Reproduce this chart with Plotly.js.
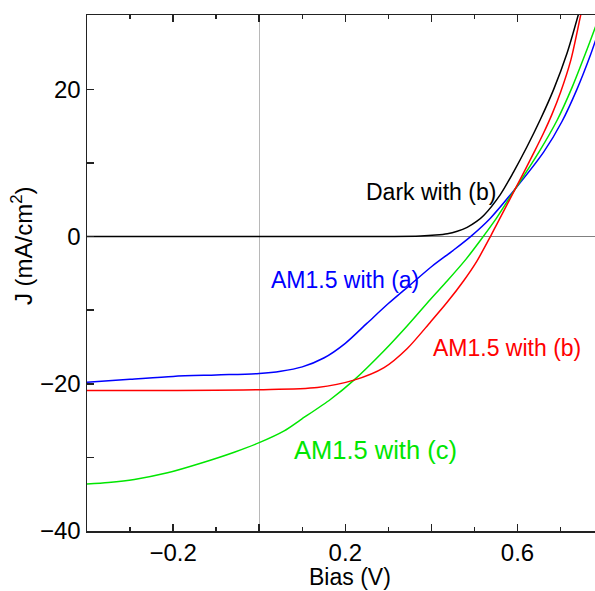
<!DOCTYPE html>
<html>
<head>
<meta charset="utf-8">
<script src="https://cdn.plot.ly/plotly-3.0.1.min.js"></script>
<style>html,body{margin:0;padding:0;background:#fff;overflow:hidden}</style>
</head>
<body>
<div id="chart" style="width:595px;height:591px"></div>
<script>
// Dark with (b)
const darkX = [-0.4, 0.1, 0.3, 0.375, 0.41, 0.437, 0.46, 0.483, 0.505, 0.522, 0.56, 0.591, 0.622, 0.653, 0.684, 0.715, 0.742];
const darkY = [0, 0, 0.02, 0.08, 0.2, 0.38, 0.72, 1.25, 2.05, 2.9, 5.7, 8.8, 12.2, 15.9, 20.0, 24.9, 30.3];
// AM1.5 with (a)
const amAX = [-0.4, -0.3, -0.2, -0.1, 0.0, 0.05, 0.1, 0.15, 0.2, 0.25, 0.3, 0.35, 0.4, 0.45, 0.491, 0.537, 0.595, 0.661, 0.703, 0.738, 0.769, 0.785];
const amAY = [-19.8, -19.4, -19.0, -18.8, -18.6, -18.3, -17.7, -16.5, -14.5, -11.8, -9.1, -6.6, -4.1, -1.9, 0, 2.5, 6.5, 11.5, 15.6, 20.0, 24.6, 27.3];
// AM1.5 with (b)
const amBX = [-0.4, -0.2, 0.0, 0.135, 0.22, 0.29, 0.344, 0.398, 0.437, 0.475, 0.505, 0.537, 0.553, 0.595, 0.618, 0.638, 0.66, 0.68, 0.70, 0.724, 0.745, 0.75];
const amBY = [-20.9, -20.9, -20.8, -20.5, -19.5, -17.8, -15.2, -11.6, -8.9, -6.0, -3.4, 0, 1.8, 6.5, 9.1, 11.4, 14.0, 16.6, 19.6, 24.0, 29.6, 31.0];
// AM1.5 with (c)
const amCX = [-0.4, -0.35, -0.29, -0.213, -0.136, -0.058, 0.0, 0.058, 0.096, 0.166, 0.22, 0.29, 0.344, 0.398, 0.437, 0.48, 0.514, 0.55, 0.595, 0.649, 0.692, 0.727, 0.758, 0.783];
const amCY = [-33.6, -33.4, -33.0, -32.1, -30.8, -29.3, -28.0, -26.4, -24.9, -22.1, -19.5, -15.5, -12.1, -8.5, -6.0, -3.1, -0.5, 2.4, 6.5, 11.4, 15.8, 20.3, 24.9, 28.8];

const yTickVals = [-40, -20, 0, 20];
const yTickText = ['\u221240', '\u221220', '0', '20'];

const FONT = 'Liberation Sans, Arial, sans-serif';
const line = (c) => ({color: c, width: 1.5, shape: 'spline', smoothing: 0.8});

const traces = [
  {x: darkX, y: darkY, mode: 'lines', line: line('#000000'), name: 'Dark with (b)'},
  {x: amAX, y: amAY, mode: 'lines', line: line('#0000ff'), name: 'AM1.5 with (a)'},
  {x: amCX, y: amCY, mode: 'lines', line: line('#00e600'), name: 'AM1.5 with (c)'},
  {x: amBX, y: amBY, mode: 'lines', line: line('#ff0000'), name: 'AM1.5 with (b)'}
];

const layout = {
  width: 595, height: 591,
  margin: {l: 87, r: 0, t: 15, b: 60},
  paper_bgcolor: '#ffffff', plot_bgcolor: '#ffffff',
  showlegend: false,
  font: {family: FONT, size: 24, color: '#000'},
  xaxis: {
    range: [-0.4, 0.78], showgrid: false,
    zeroline: true, zerolinecolor: '#b8b8b8', zerolinewidth: 1.2,
    showline: true, linecolor: '#222', linewidth: 1.5, mirror: 'ticks',
    ticks: 'inside', ticklen: 7, tickwidth: 1.5, tickcolor: '#222',
    tickmode: 'linear', tick0: -0.2, dtick: 0.2, ticklabelstep: 2,
    tickfont: {size: 24},
    minor: {dtick: 0.1, tick0: 0, ticks: 'inside', ticklen: 4, tickwidth: 1.5, tickcolor: '#222'}
  },
  yaxis: {
    range: [-40, 30.1], showgrid: false,
    zeroline: true, zerolinecolor: '#808080', zerolinewidth: 1.2,
    showline: true, linecolor: '#222', linewidth: 1.5,
    ticks: 'inside', ticklen: 7, tickwidth: 1.5, tickcolor: '#222',
    tickmode: 'array', tickvals: yTickVals, ticktext: yTickText,
    tickfont: {size: 24},
    minor: {dtick: 10, tick0: 0, ticks: 'inside', ticklen: 7, tickwidth: 1.5, tickcolor: '#222'}
  },
  annotations: [
    {text: 'Bias (V)', xref: 'paper', yref: 'paper', x: 0.518, y: -0.0901, showarrow: false, xanchor: 'center', yanchor: 'middle', borderpad: 0, font: {size: 23, color: '#000'}},
    {text: 'J (mA/cm<sup>2</sup>)', xref: 'paper', yref: 'paper', x: -0.128, y: 0.554, textangle: -90, showarrow: false, xanchor: 'center', yanchor: 'middle', font: {size: 24, color: '#000'}},
    {text: 'Dark with (b)', x: 0.2425, y: 6.0, xanchor: 'left', yanchor: 'middle', showarrow: false, font: {size: 23, color: '#000000'}},
    {text: 'AM1.5 with (a)', x: 0.022, y: -5.85, xanchor: 'left', yanchor: 'middle', showarrow: false, font: {size: 23, color: '#0000ff'}},
    {text: 'AM1.5 with (b)', x: 0.398, y: -15.2, xanchor: 'left', yanchor: 'middle', showarrow: false, font: {size: 23, color: '#ff0000'}},
    {text: 'AM1.5 with (c)', x: 0.077, y: -29.0, xanchor: 'left', yanchor: 'middle', showarrow: false, font: {size: 25.5, color: '#00e600'}}
  ]
};

Plotly.newPlot('chart', traces, layout, {displayModeBar: false, staticPlot: true});
</script>
</body>
</html>
